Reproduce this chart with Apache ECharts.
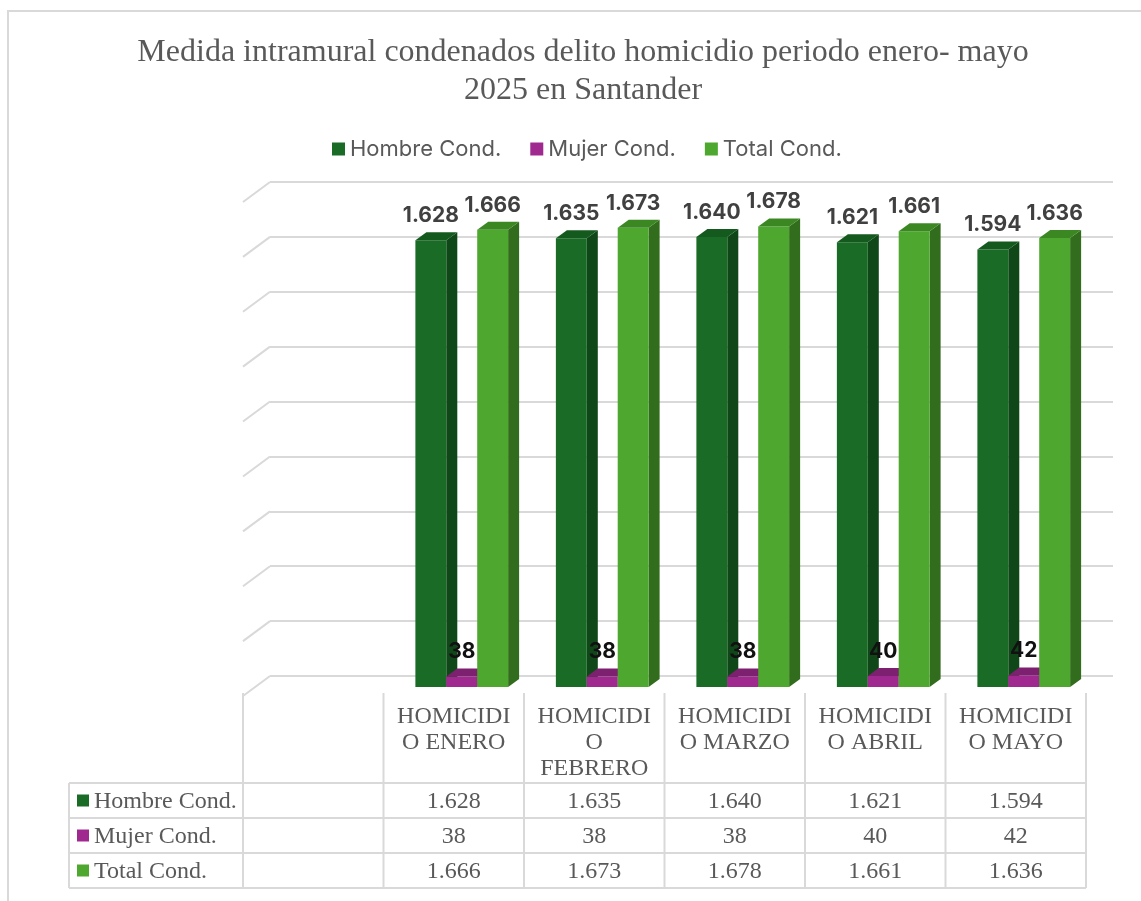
<!DOCTYPE html>
<html>
<head>
<meta charset="utf-8">
<script src="https://cdn.jsdelivr.net/npm/echarts@6/dist/echarts.min.js"></script>
<style>html,body{margin:0;padding:0;background:#fff}#c{width:1141px;height:901px}</style>
</head>
<body>
<div id="c"></div>
<script>
var titleText = 'Medida intramural condenados delito homicidio periodo enero- mayo\n2025 en Santander';
var categories = ['', 'HOMICIDIO ENERO', 'HOMICIDIO FEBRERO', 'HOMICIDIO MARZO', 'HOMICIDIO ABRIL', 'HOMICIDIO MAYO'];
var seriesNames = ['Hombre Cond.', 'Mujer Cond.', 'Total Cond.'];
var hombre = [1628, 1635, 1640, 1621, 1594];
var mujer = [38, 38, 38, 40, 42];
var total = [1666, 1673, 1678, 1661, 1636];
var yTicks = [0, 200, 400, 600, 800, 1000, 1200, 1400, 1600, 1800];

var allSeries = [hombre, mujer, total];
var frontCol = ['#1a6b26', '#a0298f', '#4ea72e'];
var sideCol = ['#0f4718', '#6e1c63', '#326c1d'];
var topCol = ['#145a1e', '#7d2070', '#3b8823'];
var labelCol = ['#404040', '#111111', '#404040'];

function fmt(v) {
  var s = String(v);
  return s.replace(/\B(?=(\d{3})+(?!\d))/g, '.');
}
function wrap(s, n) {
  var words = s.split(' '), lines = [], cur = '';
  words.forEach(function (w) {
    while (w.length > n) {
      if (cur) { lines.push(cur); cur = ''; }
      lines.push(w.slice(0, n)); w = w.slice(n);
    }
    if (!cur) cur = w;
    else if ((cur + ' ' + w).length <= n) cur += ' ' + w;
    else { lines.push(cur); cur = w; }
  });
  if (cur) lines.push(cur);
  return lines.join('\n');
}

var OX = -19, OY = 11, DX = 11, DY = -8;
var serif = '"Liberation Serif", "Times New Roman", serif';

function barRender(si) {
  return function (params, api) {
    var ci = api.value(0), v = api.value(1);
    var p = api.coord([ci, v]), p0 = api.coord([ci, 0]);
    var bw = api.size([1, 0])[0] * 0.22;
    var x0 = p[0] + OX + (si - 1.5) * bw, x1 = x0 + bw;
    var yT = p[1] + OY, yB = p0[1] + OY;
    return {
      type: 'group',
      children: [
        { type: 'polygon', shape: { points: [[x1, yB], [x1, yT], [x1 + DX, yT + DY], [x1 + DX, yB + DY]] }, style: { fill: sideCol[si] } },
        { type: 'rect', shape: { x: x0, y: yT, width: bw, height: yB - yT }, style: { fill: frontCol[si] } },
        { type: 'polygon', shape: { points: [[x0, yT], [x1, yT], [x1 + DX, yT + DY], [x0 + DX, yT + DY]] }, style: { fill: topCol[si] } },
        { type: 'text', style: { x: x0 + bw / 2, y: yT + DY - 6, text: fmt(v), fill: labelCol[si], font: 'bold 21px Inter, sans-serif', textAlign: 'center', textVerticalAlign: 'bottom' } }
      ]
    };
  };
}

var gridLine = '#d9d9d9';
var rowY = [783, 818, 853, 888];
var tableLeft = 69, headTop = 693;

function tableRender(params, api) {
  var ci = api.value(0);
  var c = api.coord([ci, 0]);
  var w = api.size([1, 0])[0];
  var left = c[0] - w / 2, right = c[0] + w / 2;
  var ch = [];
  ch.push({ type: 'line', shape: { x1: right, y1: headTop, x2: right, y2: rowY[3] }, style: { stroke: gridLine, lineWidth: 2 } });
  if (ci === 0) {
    ch.push({ type: 'line', shape: { x1: left, y1: headTop, x2: left, y2: rowY[3] }, style: { stroke: gridLine, lineWidth: 2 } });
    ch.push({ type: 'line', shape: { x1: tableLeft, y1: rowY[0], x2: tableLeft, y2: rowY[3] }, style: { stroke: gridLine, lineWidth: 2 } });
    var rightEnd = api.coord([categories.length - 1, 0])[0] + w / 2;
    rowY.forEach(function (y) {
      ch.push({ type: 'line', shape: { x1: tableLeft, y1: y, x2: rightEnd, y2: y }, style: { stroke: gridLine, lineWidth: 2 } });
    });
    seriesNames.forEach(function (n, k) {
      var yc = (rowY[k] + rowY[k + 1]) / 2;
      ch.push({ type: 'rect', shape: { x: 77, y: yc - 6, width: 12, height: 12 }, style: { fill: frontCol[k] } });
      ch.push({ type: 'text', style: { x: 94, y: yc + 1, text: n, fill: '#595959', font: '24px ' + serif, textAlign: 'left', textVerticalAlign: 'middle' } });
    });
  } else {
    allSeries.forEach(function (arr, k) {
      var yc = (rowY[k] + rowY[k + 1]) / 2;
      ch.push({ type: 'text', style: { x: c[0], y: yc + 1, text: fmt(arr[ci - 1]), fill: '#595959', font: '24px ' + serif, textAlign: 'center', textVerticalAlign: 'middle' } });
    });
  }
  return { type: 'group', children: ch };
}

function diagRender(params, api) {
  var v = api.value(1);
  var p = api.coord([0, v]);
  var w = api.size([1, 0])[0];
  var x = p[0] - w / 2;
  return { type: 'line', shape: { x1: x, y1: p[1], x2: x - 27, y2: p[1] + 20 }, style: { stroke: gridLine, lineWidth: 2 } };
}

var series = [];
seriesNames.forEach(function (n, si) {
  series.push({
    name: n, type: 'custom', xAxisIndex: 0, yAxisIndex: 0, clip: false,
    itemStyle: { color: frontCol[si] },
    renderItem: barRender(si),
    data: allSeries[si].map(function (v, i) { return [i + 1, v]; }),
    z: 3 + si
  });
});
series.push({
  name: 'diag', type: 'custom', xAxisIndex: 0, yAxisIndex: 0, clip: false, silent: true,
  renderItem: diagRender, data: yTicks.map(function (v) { return [0, v]; }), z: 1
});
series.push({
  name: 'table', type: 'custom', xAxisIndex: 1, yAxisIndex: 1, clip: false, silent: true,
  renderItem: tableRender, data: categories.map(function (c, i) { return [i, 0]; }), z: 2
});

var option = {
  backgroundColor: '#ffffff',
  animation: false,
  title: {
    text: titleText, left: 578, top: 29, textAlign: 'center',
    textStyle: { fontFamily: serif, fontSize: 32, fontWeight: 'normal', color: '#595959', lineHeight: 38 }
  },
  legend: {
    data: seriesNames, left: 327, top: 133, icon: 'rect', itemWidth: 13, itemHeight: 13, itemGap: 29,
    textStyle: { fontFamily: 'Inter, sans-serif', fontSize: 22, color: '#595959' }
  },
  graphic: [{ type: 'rect', shape: { x: 8, y: 11, width: 1300, height: 1000 }, style: { fill: 'none', stroke: '#d9d9d9', lineWidth: 2 }, silent: true, z: -10 }],
  grid: [
    { left: 270, right: 28, top: 182, bottom: 225 },
    { left: 243, right: 55, top: 202, bottom: 205 }
  ],
  xAxis: [
    { type: 'category', gridIndex: 0, data: categories, axisLine: { show: false }, axisTick: { show: false }, axisLabel: { show: false } },
    { type: 'category', gridIndex: 1, data: categories, axisLine: { show: false }, axisTick: { show: false },
      axisLabel: { interval: 0, hideOverlap: false, margin: 8, fontFamily: serif, fontSize: 24, color: '#595959', lineHeight: 26, verticalAlign: 'top',
        formatter: function (v) { return wrap(v, 8); } } }
  ],
  yAxis: [
    { type: 'value', gridIndex: 0, min: 0, max: 1800, interval: 200, axisLabel: { show: false }, axisLine: { show: false }, axisTick: { show: false },
      splitLine: { lineStyle: { color: gridLine, width: 2 } } },
    { type: 'value', gridIndex: 1, min: 0, max: 1800, interval: 200, show: false, splitLine: { show: false } }
  ],
  series: series
};
var chart = echarts.init(document.getElementById('c'));
chart.setOption(option);
</script>
</body>
</html>
